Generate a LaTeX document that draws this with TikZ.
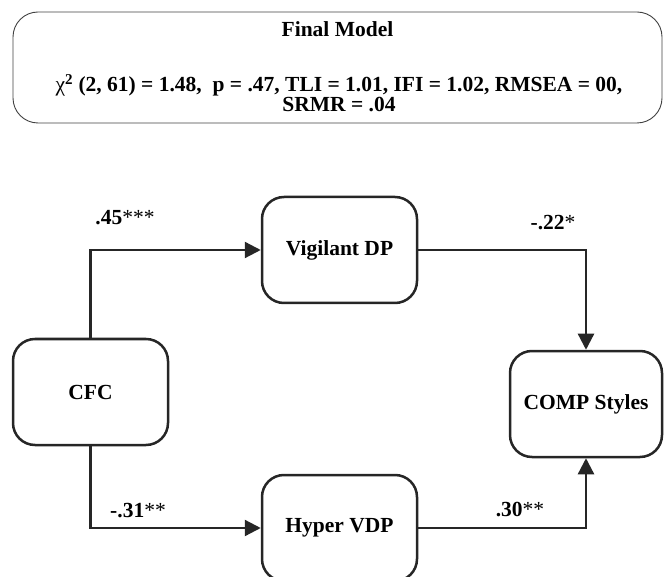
\documentclass[tikz,border=0pt]{standalone}
\usepackage{fontspec}
\setmainfont{Liberation Serif}
\usetikzlibrary{arrows.meta,positioning}

\begin{document}
\begin{tikzpicture}[x=1pt,y=-1pt,
  modelbox/.style={draw=black!85, line width=2.5pt, rounded corners=22pt,
    minimum width=155pt, minimum height=106pt, inner sep=0pt,
    font=\fontsize{21.5}{24}\selectfont\bfseries},
  pathlbl/.style={inner sep=0pt, font=\fontsize{21.5}{24}\selectfont\bfseries},
  fittext/.style={inner sep=0pt, font=\fontsize{21.5}{19.5}\selectfont\bfseries},
  arr/.style={line width=2.3pt, draw=black!85,
    -{Triangle[length=16pt,width=16pt]}}]
  \clip (0,0) rectangle (664,577);

  % fit-statistics banner
  \node[draw=black!75, line width=0.9pt, rounded corners=25pt,
        minimum width=649pt, minimum height=111pt, inner sep=0pt]
        (fit) at (337.5,67.5) {};
  \node[fittext] (title) at (337.5,29) {Final Model};
  \node[fittext, align=center] (stats) at (339,93)
        {{\mdseries χ}\textsuperscript{2} (2, 61) = 1.48,\ \ p = .47, TLI = 1.01, IFI = 1.02, RMSEA = 00,\\
         SRMR = .04};

  % variables
  \node[modelbox] (cfc)  at (90.5,392)  {CFC};
  \node[modelbox] (vig)  at (339.5,250) {Vigilant DP};
  \node[modelbox] (hyp)  at (339.5,528) {Hyper VDP};
  \node[modelbox, minimum width=152pt] (comp) at (586,404) {COMP Styles};

  % paths
  \draw[arr] (cfc.north) |- (vig.west);
  \draw[arr] (vig.east) -| (comp.north);
  \draw[arr] (cfc.south) |- (hyp.west);
  \draw[arr] (hyp.east) -| (comp.south);

  % path coefficients
  \node[pathlbl] (l1) at (125,218) {.45{\mdseries ***}};
  \node[pathlbl] (l2) at (553,223) {-.22{\mdseries *}};
  \node[pathlbl] (l3) at (138,511) {-.31{\mdseries **}};
  \node[pathlbl] (l4) at (520,510) {.30{\mdseries **}};
\end{tikzpicture}
\end{document}
